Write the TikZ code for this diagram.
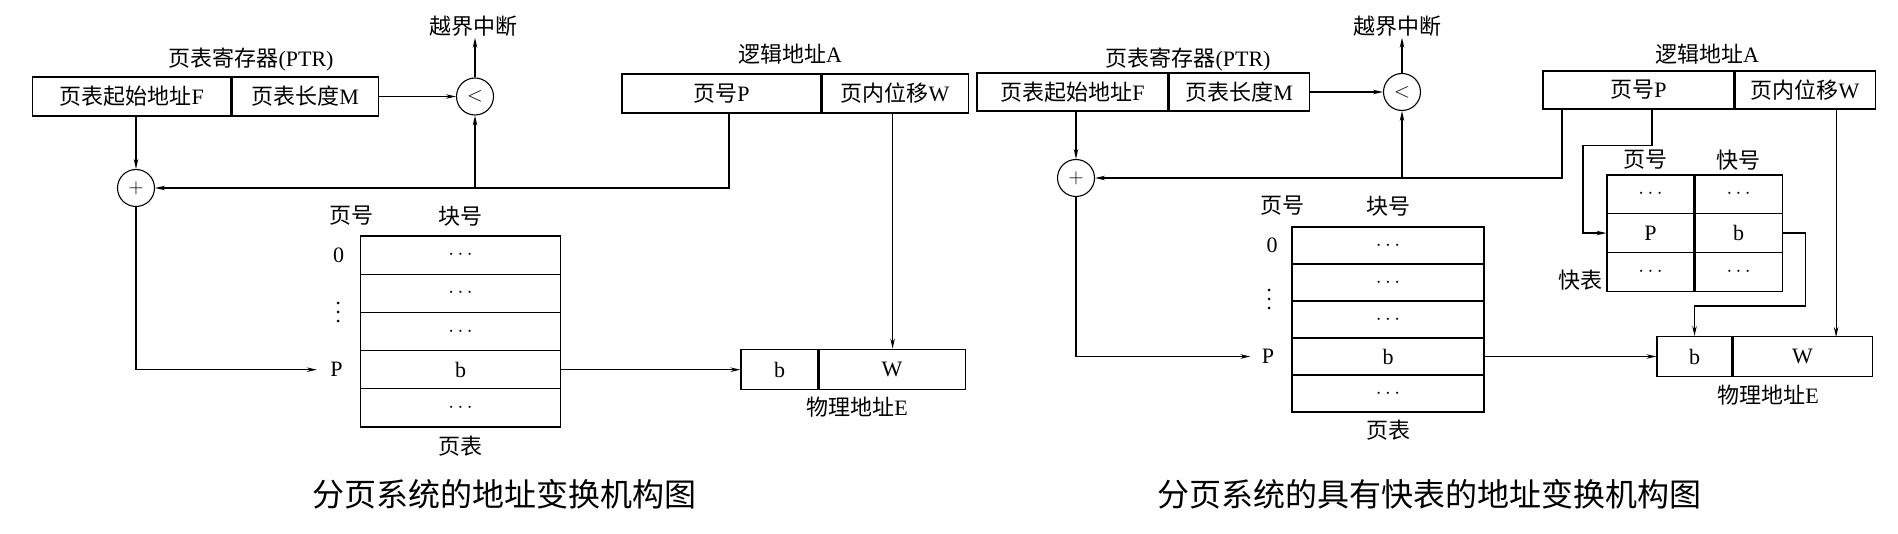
\documentclass[tikz,border=0pt]{standalone}
\usepackage{fontspec}
\setmainfont{Liberation Serif}
\newfontfamily\cjkfont{Noto Sans CJK SC}
\usetikzlibrary{arrows.meta,positioning,calc}
\newcommand{\zh}[1]{{\cjkfont #1}}

\begin{document}
\begin{tikzpicture}[x=1pt,y=-1pt,
    font=\fontsize{22}{24}\selectfont,
    inner sep=1pt,
    line width=1.1pt,
    >={Stealth[length=10pt,width=4.5pt]},
    cell/.style={draw,inner sep=0pt,minimum height=39pt},
    op/.style={draw,circle,minimum size=37pt,inner sep=0pt},
    vdts/.style={inner sep=0pt,minimum size=22pt},
    caption/.style={font=\fontsize{32}{36}\selectfont\cjkfont}]
  \useasboundingbox (0,0) rectangle (1898,534);

  %%%%% left: plain paging
  % page table register
  \node[cell,minimum width=198.5pt] (ptrF) at (131.75,96.5) {\zh{页表起始地址}F};
  \node[cell,minimum width=146pt,right=0pt of ptrF] (ptrM) {\zh{页表长度}M};
  \node (ptr) at (251,60) {\zh{页表寄存器}(PTR)};
  % compare / add
  \node[op] (lt) at (475,96.5) {$<$};
  \node (ovf) at (473,26) {\zh{越界中断}};
  \node[op] (plus) at (136,188) {$+$};
  % logical address
  \node[cell,minimum width=199pt] (laP) at (721.5,93.5) {\zh{页号}P};
  \node[cell,minimum width=146pt,right=0pt of laP] (laW) {\zh{页内位移}W};
  \node (la) at (790,54) {\zh{逻辑地址}A};
  % page table
  \foreach \t [count=\i] in {$\cdots$,$\cdots$,$\cdots$,b,$\cdots$}
    \node[cell,minimum width=200pt,minimum height=38.2pt] (pt\i) at (460.5,{236+38.2*(\i-.5)}) {\t};
  \node (hpg) at (351,216) {\zh{页号}};
  \node (hblk) at (460.5,216) {\zh{块号}};
  \node (r0) at ([xshift=-122pt]pt1.center) {0};
  \node[vdts] (rdots) at (338,312) {};
  \foreach \d in {-9,0,9} \fill ([yshift=\d pt]rdots.center) circle (1.5pt);
  \node (rP) at ([xshift=-124pt]pt4.center) {P};
  \node (ptname) at (460.5,446) {\zh{页表}};
  % physical address
  \node[cell,minimum width=77pt,minimum height=40pt] (phB) at ([xshift=319pt]pt4.center) {b};
  \node[cell,minimum width=146pt,minimum height=40pt,right=0pt of phB] (phW) {W};
  \node (ph) at (857,407) {\zh{物理地址}E};
  % arrows
  \draw[->] (ptrM.east) -- (lt.west);
  \draw[->] (lt.north) -- (ovf.south -| lt);
  \draw[->] (ptrF.south -| plus) -- (plus.north);
  \draw[->] ([xshift=7.5pt]laP.south) |- (plus.east);
  \draw[->] (lt.south |- plus.east) -- (lt.south);
  \draw[->] (plus.south) |- ([xshift=-12pt]rP.west);
  \draw[->] (pt4.east) -- (phB.west);
  \draw[->] ([xshift=-2.5pt]laW.south) -- ++(0,235);
  \node[caption] (cap1) at (504,494) {分页系统的地址变换机构图};

  %%%%% right: paging with TLB
  % page table register
  \node[cell,minimum width=191pt,minimum height=38pt] (ptrF2) at (1072.5,92) {\zh{页表起始地址}F};
  \node[cell,minimum width=140pt,minimum height=38pt,right=0pt of ptrF2] (ptrM2) {\zh{页表长度}M};
  \node (ptr2) at (1188,60) {\zh{页表寄存器}(PTR)};
  % compare / add
  \node[op] (lt2) at (1402,92) {$<$};
  \node (ovf2) at (1397,26) {\zh{越界中断}};
  \node[op] (plus2) at (1076,178) {$+$};
  % logical address
  \node[cell,minimum width=191pt,minimum height=38pt] (laP2) at (1638.5,90) {\zh{页号}P};
  \node[cell,minimum width=140pt,minimum height=38pt,right=0pt of laP2] (laW2) {\zh{页内位移}W};
  \node (la2) at (1707,54) {\zh{逻辑地址}A};
  % fast table
  \foreach \p/\b [count=\i] in {$\cdots$/$\cdots$,P/b,$\cdots$/$\cdots$}{
    \node[cell,minimum width=87pt,minimum height=38.7pt] (tp\i) at (1650.5,{175+38.7*(\i-.5)}) {\p};
    \node[cell,minimum width=87pt,minimum height=38.7pt,right=0pt of tp\i] (tb\i) {\b};
  }
  \node (thpg) at (1645,160) {\zh{页号}};
  \node (thblk) at (1738,160) {\zh{快号}};
  \node (tname) at (1580,280) {\zh{快表}};
  % page table
  \foreach \t [count=\i] in {$\cdots$,$\cdots$,$\cdots$,b,$\cdots$}
    \node[cell,minimum width=192pt,minimum height=37pt] (qt\i) at (1388,{227+37*(\i-.5)}) {\t};
  \node (hpg2) at (1282,206) {\zh{页号}};
  \node (hblk2) at (1388,206) {\zh{块号}};
  \node (s0) at ([xshift=-116pt]qt1.center) {0};
  \node[vdts] (sdots) at (1269,299) {};
  \foreach \d in {-9,0,9} \fill ([yshift=\d pt]sdots.center) circle (1.5pt);
  \node (sP) at ([xshift=-120pt]qt4.center) {P};
  \node (qtname) at (1388,430) {\zh{页表}};
  % physical address
  \node[cell,minimum width=75pt,minimum height=40pt] (phB2) at ([xshift=306.5pt]qt4.center) {b};
  \node[cell,minimum width=139pt,minimum height=40pt,right=0pt of phB2] (phW2) {W};
  \node (ph2) at (1768,395) {\zh{物理地址}E};
  % arrows
  \draw[->] (ptrM2.east) -- (lt2.west);
  \draw[->] (lt2.north) -- (ovf2.south -| lt2);
  \draw[->] (ptrF2.south -| plus2) -- (plus2.north);
  \draw[->] ([xshift=-76.5pt]laP2.south) |- (plus2.east);
  \draw[->] (lt2.south |- plus2.east) -- (lt2.south);
  \draw[->] (plus2.south) |- ([xshift=-10pt]sP.west);
  \draw[->] (qt4.east) -- (phB2.west);
  \draw[->] ([xshift=13.5pt]laP2.south) -- ++(0,36) -- ++(-69,0) |- (tp2.west);
  \draw[->] (tb2.east) -- ++(23,0) -- ++(0,73) -| (phB2.north);
  \draw[->] ([xshift=31pt]laW2.south) -- ++(0,227.5);
  \node[caption] (cap2) at (1429,494) {分页系统的具有快表的地址变换机构图};
\end{tikzpicture}
\end{document}
